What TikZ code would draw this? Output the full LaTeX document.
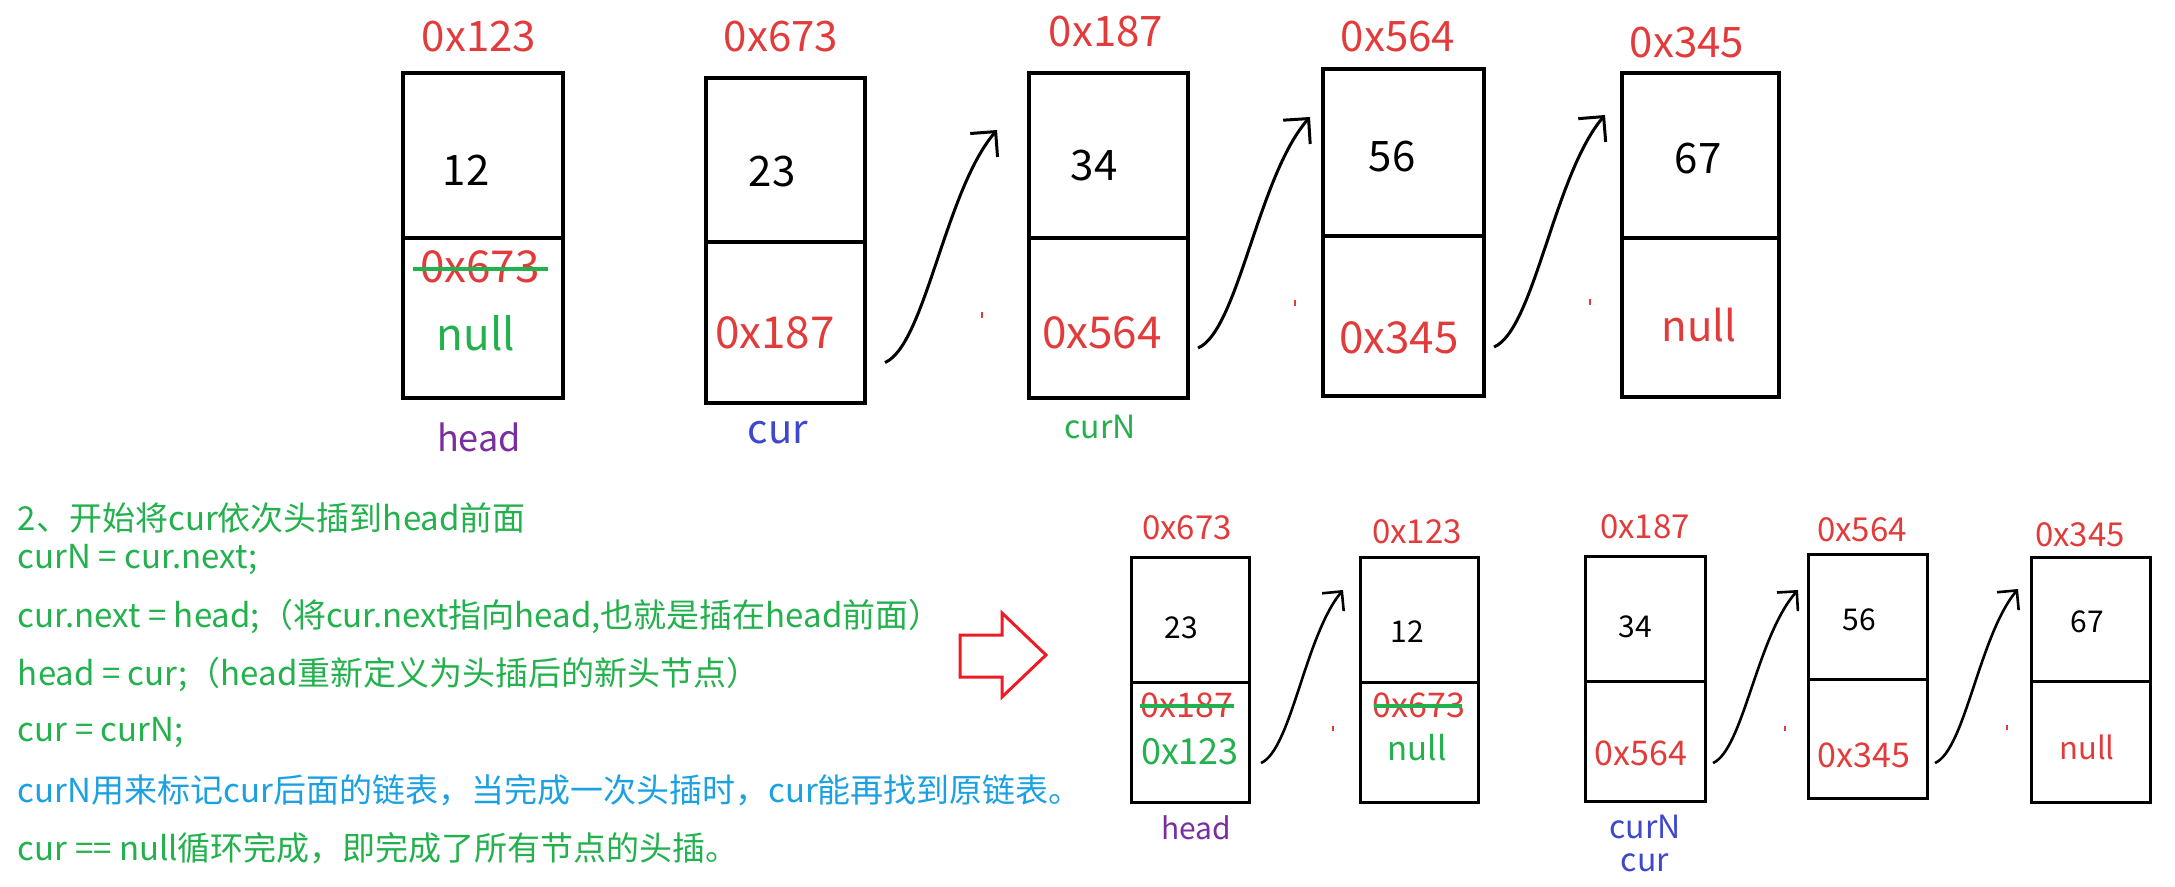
\documentclass[tikz,border=0pt]{standalone}
\usepackage{fontspec}
\setmainfont{Noto Sans CJK SC}
\usetikzlibrary{arrows.meta,calc,fit}
\definecolor{addr}{HTML}{E23B3B}
\definecolor{grn}{HTML}{22B14C}
\definecolor{purp}{HTML}{7A2E9E}
\definecolor{indig}{HTML}{3F48CC}
\definecolor{sky}{HTML}{1BA1E2}
\definecolor{bigred}{HTML}{ED1C24}
\newcommand\fsz[1]{\fontsize{#1pt}{#1pt}\selectfont}
\newcommand\mkcells[7]{% style, name, left, top, right, divider, bottom
  \node[#1, fit={(#3,#4) (#5,#6)}] (#2t) {};
  \node[#1, fit={(#3,#6) (#5,#7)}] (#2b) {};
}
\begin{document}
\begin{tikzpicture}[x=0.5pt,y=-0.5pt,
  cellbig/.style={draw=black, line width=1.75pt, inner sep=0pt, outer sep=0pt},
  cellsmall/.style={draw=black, line width=1.5pt, inner sep=0pt, outer sep=0pt},
  txt/.style={inner sep=0pt, outer sep=0pt, anchor=center},
  adrbig/.style={txt, text=addr, font=\fsz{21}},
  valbig/.style={txt, text=black, font=\fsz{21}},
  adrsmall/.style={txt, text=addr, font=\fsz{16.5}},
  valsmall/.style={txt, text=black, font=\fsz{15}},
  strike/.style={draw=grn, line width=2pt},
  linkbig/.style={draw=black, line width=1.5pt, -{Straight Barb[length=9pt,width=18pt,line width=1.5pt]}},
  linksmall/.style={draw=black, line width=1.3pt, -{Straight Barb[length=7pt,width=14pt,line width=1.3pt]}},
  codeline/.style={inner sep=0pt, outer sep=0pt, anchor=west, font=\fsz{16.5}},
  speck/.style={draw=addr, line width=1pt}
]
\useasboundingbox (0,0) rectangle (2175,887);

% ---------------- top row ----------------
\mkcells{cellbig}{b1}{403}{73}{563}{238}{398}
\mkcells{cellbig}{b2}{706}{78}{865}{242}{403}
\mkcells{cellbig}{b3}{1029}{73}{1188}{238}{398}
\mkcells{cellbig}{b4}{1323}{69}{1484}{236}{396}
\mkcells{cellbig}{b5}{1622}{73}{1779}{238}{397}

\node[adrbig] (ta1) at (479,37) {0x123};
\node[adrbig] (ta2) at (781,37) {0x673};
\node[adrbig] (ta3) at (1106,32) {0x187};
\node[adrbig] (ta4) at (1398,37) {0x564};
\node[adrbig] (ta5) at (1687,43) {0x345};

\node[valbig] (tv1) at (466,170) {12};
\node[valbig] (tv2) at (772,172) {23};
\node[valbig] (tv3) at (1094,166) {34};
\node[valbig] (tv4) at (1392,157) {56};
\node[valbig] (tv5) at (1698,159) {67};

\node[txt, text=addr, font=\fsz{22}] (tn1old) at (480,267) {0x673};
\draw[strike] (413,269) -- (548,269);
\node[txt, text=grn, font=\fsz{22}] (tn1) at (476,333) {null};
\node[txt, text=addr, font=\fsz{22}] (tn2) at (775,333) {0x187};
\node[txt, text=addr, font=\fsz{22}] (tn3) at (1102,333) {0x564};
\node[txt, text=addr, font=\fsz{22}] (tn4) at (1399,338) {0x345};
\node[txt, text=addr, font=\fsz{21}] (tn5) at (1699,325) {null};

\node[txt, text=purp, font=\fsz{18}] (thead) at (479,437) {head};
\node[txt, text=indig, font=\fsz{20}] (tcur) at (778,433) {cur};
\node[txt, text=grn, font=\fsz{16}] (tcurN) at (1100,427) {curN};

\coordinate (a1s) at ($(b2b.east)+(20,40)$);
\coordinate (a1e) at ($(b3t.west)+(-32,-25.5)$);
\coordinate (a2s) at ($(b3b.east)+(10,30)$);
\coordinate (a2e) at ($(b4t.west)+(-13,-35.5)$);
\coordinate (a3s) at ($(b4b.east)+(10,31)$);
\coordinate (a3e) at ($(b5t.west)+(-17,-40.5)$);
\draw[linkbig] (a1s) .. controls ($(a1s)+(40,-17)$) and ($(a1s)+(60,-172)$) .. (a1e);
\draw[linkbig] (a2s) .. controls ($(a2s)+(40,-17)$) and ($(a2s)+(60,-172)$) .. (a2e);
\draw[linkbig] (a3s) .. controls ($(a3s)+(40,-17)$) and ($(a3s)+(60,-172)$) .. (a3e);

\draw[speck] (982,312) -- (982,318);
\draw[speck] (1295,300) -- (1295,306);
\draw[speck] (1590,299) -- (1590,305);

% ---------------- text block ----------------
\node[codeline, text=grn] (c1) at (18,518) {2、开始将cur依次头插到head前面};
\node[codeline, text=grn] (c2) at (18,560) {curN = cur.next;};
\node[codeline, text=grn] (c3) at (18,617) {cur.next = head;（将cur.next指向head,也就是插在head前面）};
\node[codeline, text=grn] (c4) at (18,675) {head = cur;（head重新定义为头插后的新头节点）};
\node[codeline, text=grn] (c5) at (18,733) {cur = curN;};
\node[codeline, text=sky] (c6) at (18,790) {curN用来标记cur后面的链表，当完成一次头插时，cur能再找到原链表。};
\node[codeline, text=grn] (c7) at (18,848) {cur == null循环完成，即完成了所有节点的头插。};

\draw[draw=bigred, line width=1.5pt, line join=miter]
  (960,635) -- (1002,635) -- (1002,613) -- (1046,655) -- (1002,697) -- (1002,677) -- (960,677) -- cycle;

% ---------------- bottom row ----------------
\mkcells{cellsmall}{bA}{1131}{558}{1249}{682}{802}
\mkcells{cellsmall}{bB}{1360}{558}{1478}{682}{802}
\mkcells{cellsmall}{bC}{1585}{557}{1705}{681}{801}
\mkcells{cellsmall}{bD}{1808}{555}{1927}{679}{798}
\mkcells{cellsmall}{bE}{2031}{558}{2150}{681}{802}

\node[adrsmall] (ba1) at (1187,528) {0x673};
\node[adrsmall] (ba2) at (1417,532) {0x123};
\node[adrsmall] (ba3) at (1645,527) {0x187};
\node[adrsmall] (ba4) at (1862,530) {0x564};
\node[adrsmall] (ba5) at (2080,535) {0x345};

\node[valsmall] (bv1) at (1181,628) {23};
\node[valsmall] (bv2) at (1407,632) {12};
\node[valsmall] (bv3) at (1635,627) {34};
\node[valsmall] (bv4) at (1859,620) {56};
\node[valsmall] (bv5) at (2087,622) {67};

\node[txt, text=addr, font=\fsz{17}] (bn1old) at (1187,705) {0x187};
\draw[strike] (1140,706) -- (1234,706);
\node[txt, text=grn, font=\fsz{18}] (bn1) at (1190,752) {0x123};
\node[txt, text=addr, font=\fsz{17}] (bn2old) at (1419,705) {0x673};
\draw[strike] (1374,706) -- (1462,706);
\node[txt, text=grn, font=\fsz{16.5}] (bn2) at (1417,748) {null};
\node[txt, text=addr, font=\fsz{17}] (bn3) at (1641,753) {0x564};
\node[txt, text=addr, font=\fsz{17}] (bn4) at (1864,755) {0x345};
\node[txt, text=addr, font=\fsz{15.5}] (bn5) at (2087,747) {null};

\node[txt, text=purp, font=\fsz{15}] (bhead) at (1196,828) {head};
\node[txt, text=indig, font=\fsz{16}] (bcurN) at (1645,827) {curN};
\node[txt, text=indig, font=\fsz{16}] (bcur) at (1645,863) {cur};

\coordinate (d1s) at ($(bAb.east)+(12,21)$);
\coordinate (d1e) at ($(bBt.west)+(-17,-30)$);
\coordinate (d2s) at ($(bCb.east)+(8,22)$);
\coordinate (d2e) at ($(bDt.west)+(-10,-27)$);
\coordinate (d3s) at ($(bDb.east)+(8,24.5)$);
\coordinate (d3e) at ($(bEt.west)+(-13,-30.5)$);
\draw[linksmall] (d1s) .. controls ($(d1s)+(30,-13)$) and ($(d1s)+(44,-127)$) .. (d1e);
\draw[linksmall] (d2s) .. controls ($(d2s)+(30,-13)$) and ($(d2s)+(44,-127)$) .. (d2e);
\draw[linksmall] (d3s) .. controls ($(d3s)+(30,-13)$) and ($(d3s)+(44,-127)$) .. (d3e);

\draw[speck] (1333,726) -- (1333,731);
\draw[speck] (1785,726) -- (1785,731);
\draw[speck] (2007,725) -- (2007,730);
\end{tikzpicture}
\end{document}
